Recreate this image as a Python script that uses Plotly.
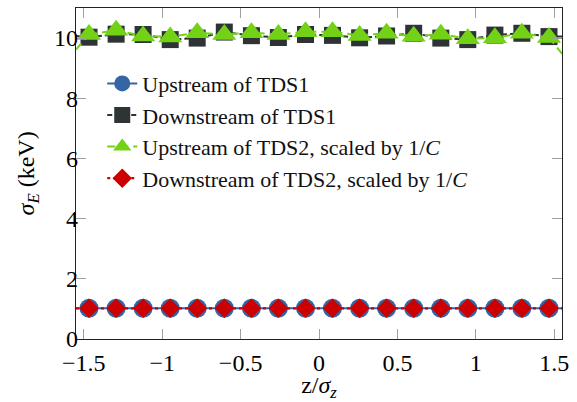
import plotly.graph_objects as go

# ---- data ----
z_marks = [-1.467, -1.294, -1.122, -0.949, -0.777, -0.604, -0.431, -0.259, -0.086,
           0.086, 0.259, 0.431, 0.604, 0.777, 0.949, 1.122, 1.294, 1.467]
z_edges = [-1.55, 1.55]

up_tds1 = [1.02] * 18
down_tds1 = [10.03, 10.13, 10.12, 9.95, 10.00, 10.20, 10.08, 10.02, 10.12,
             10.09, 10.01, 10.07, 10.16, 10.00, 9.95, 10.10, 10.16, 10.05]
up_tds2 = [10.12, 10.26, 10.07, 10.04, 10.18, 10.12, 10.18, 10.12, 10.21,
           10.21, 10.09, 10.16, 10.06, 10.13, 9.98, 10.01, 10.16, 10.02]
down_tds2 = [1.02] * 18

up_tds1_edges = [1.02, 1.02]
down_tds1_edges = [10.07, 10.05]
up_tds2_edges = [9.62, 9.48]
down_tds2_edges = [1.02, 1.02]

names = ["Upstream of TDS1", "Downstream of TDS1",
         "Upstream of TDS2, scaled by 1/<i>C</i>",
         "Downstream of TDS2, scaled by 1/<i>C</i>"]
y_title = "<i>σ</i><sub><i>E</i></sub> (keV)"
x_title = "z/<i>σ</i><sub><i>z</i></sub>"

series = [
    (up_tds1, up_tds1_edges, "#3465a4", "solid", 2.0, "circle", 19),
    (down_tds1, down_tds1_edges, "#2e3436", "5px,3px", 2.0, "square", 17),
    (up_tds2, up_tds2_edges, "#73d216", "8px,5px", 2.0, "triangle-up", 21),
    (down_tds2, down_tds2_edges, "#cc0000", "dot", 2.2, "diamond", 15),
]

FONT = "Liberation Serif"
FS = 24
fig = go.Figure()

for name, (vals, edges, color, dash, lw, sym, size) in zip(names, series):
    # line pieces reaching the plot edges
    fig.add_trace(go.Scatter(
        x=[z_edges[0], z_marks[0], None, z_marks[-1], z_edges[1]],
        y=[edges[0], vals[0], None, vals[-1], edges[1]],
        mode="lines", line=dict(color=color, dash=dash, width=lw),
        showlegend=False, hoverinfo="skip", cliponaxis=True))
    fig.add_trace(go.Scatter(
        x=z_marks, y=vals, name=name, mode="lines+markers",
        line=dict(color=color, dash=dash, width=lw),
        marker=dict(symbol=sym, size=size, color=color, line=dict(width=0))))

axis_common = dict(
    showgrid=False, zeroline=False, ticks="inside", ticklen=10,
    tickcolor="#a0a0a0", tickwidth=1, mirror="allticks", showline=True,
    linecolor="#222222", linewidth=1.2,
    tickfont=dict(family=FONT, size=FS, color="black"),
)

fig.update_layout(
    width=577, height=402,
    margin=dict(l=76, r=15, t=7, b=58),
    paper_bgcolor="white", plot_bgcolor="white",
    font=dict(family=FONT, size=FS, color="black"),
    showlegend=True,
    legend=dict(x=0.054, y=0.835, xanchor="left", yanchor="top",
                bgcolor="rgba(0,0,0,0)", borderwidth=0,
                font=dict(family=FONT, size=22, color="#111"),
                tracegroupgap=0),
    xaxis=dict(range=[-1.55, 1.55], dtick=0.5, tick0=0, ticklabelstandoff=2,
               title=dict(text=x_title, standoff=2,
                          font=dict(family=FONT, size=FS)),
               **axis_common),
    yaxis=dict(range=[0, 11], dtick=2, tick0=0, ticklabelstandoff=-8,
               **axis_common),
    annotations=[dict(text=y_title, xref="paper", yref="paper",
                      x=-0.099, y=0.5, xanchor="center", yanchor="middle",
                      textangle=-90, showarrow=False,
                      font=dict(family=FONT, size=FS, color="black"))],
)

fig.write_html("out.html", config={"displayModeBar": False},
               post_script="document.body.style.margin='0px';document.body.style.padding='0px';")
